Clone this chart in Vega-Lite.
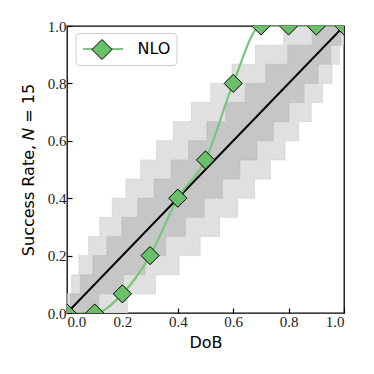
{
  "$schema": "https://vega.github.io/schema/vega-lite/v6.json",
  "width": 277,
  "height": 287,
  "autosize": {"type": "none"},
  "padding": {"left": 67, "top": 26, "right": 30, "bottom": 61},
  "background": "white",
  "config": {
    "view": {"stroke": "black", "strokeWidth": 1.3},
    "axis": {
      "domain": false,
      "grid": false,
      "ticks": true,
      "tickColor": "black",
      "tickSize": -5,
      "tickWidth": 1.2,
      "labelFont": "Liberation Serif",
      "labelFontSize": 15,
      "labelColor": "#222",
      "titleFont": "DejaVu Sans",
      "titleFontSize": 16,
      "titleFontWeight": "normal",
      "titleColor": "black"
    }
  },
  "datasets": {
    "light": [
      {"x": 0, "y": 0, "y2": 0},
      {"x": 0.0017, "y": 0, "y2": 0.0667},
      {"x": 0.0166, "y": 0, "y2": 0.1333},
      {"x": 0.0433, "y": 0, "y2": 0.2},
      {"x": 0.0779, "y": 0, "y2": 0.2667},
      {"x": 0.1182, "y": 0, "y2": 0.3333},
      {"x": 0.1634, "y": 0, "y2": 0.4},
      {"x": 0.2127, "y": 0, "y2": 0.4667},
      {"x": 0.218, "y": 0.0667, "y2": 0.4667},
      {"x": 0.2659, "y": 0.0667, "y2": 0.5333},
      {"x": 0.3195, "y": 0.1333, "y2": 0.5333},
      {"x": 0.3229, "y": 0.1333, "y2": 0.6},
      {"x": 0.3838, "y": 0.1333, "y2": 0.6667},
      {"x": 0.4046, "y": 0.2, "y2": 0.6667},
      {"x": 0.449, "y": 0.2, "y2": 0.7333},
      {"x": 0.4809, "y": 0.2667, "y2": 0.7333},
      {"x": 0.5191, "y": 0.2667, "y2": 0.8},
      {"x": 0.551, "y": 0.3333, "y2": 0.8},
      {"x": 0.5954, "y": 0.3333, "y2": 0.8667},
      {"x": 0.6162, "y": 0.4, "y2": 0.8667},
      {"x": 0.6771, "y": 0.4667, "y2": 0.8667},
      {"x": 0.6805, "y": 0.4667, "y2": 0.9333},
      {"x": 0.7341, "y": 0.5333, "y2": 0.9333},
      {"x": 0.782, "y": 0.5333, "y2": 1},
      {"x": 0.7873, "y": 0.6, "y2": 1},
      {"x": 0.8366, "y": 0.6667, "y2": 1},
      {"x": 0.8818, "y": 0.7333, "y2": 1},
      {"x": 0.9221, "y": 0.8, "y2": 1},
      {"x": 0.9567, "y": 0.8667, "y2": 1},
      {"x": 0.9834, "y": 0.9333, "y2": 1},
      {"x": 0.9983, "y": 1, "y2": 1},
      {"x": 1, "y": 1, "y2": 1}
    ],
    "dark": [
      {"x": 0, "y": 0, "y2": 0},
      {"x": 0.0116, "y": 0, "y2": 0.0667},
      {"x": 0.048, "y": 0, "y2": 0.1333},
      {"x": 0.0935, "y": 0, "y2": 0.2},
      {"x": 0.115, "y": 0.0667, "y2": 0.2},
      {"x": 0.1441, "y": 0.0667, "y2": 0.2667},
      {"x": 0.1984, "y": 0.0667, "y2": 0.3333},
      {"x": 0.2031, "y": 0.1333, "y2": 0.3333},
      {"x": 0.2551, "y": 0.1333, "y2": 0.4},
      {"x": 0.2822, "y": 0.2, "y2": 0.4},
      {"x": 0.3143, "y": 0.2, "y2": 0.4667},
      {"x": 0.3563, "y": 0.2667, "y2": 0.4667},
      {"x": 0.3758, "y": 0.2667, "y2": 0.5333},
      {"x": 0.427, "y": 0.3333, "y2": 0.5333},
      {"x": 0.4392, "y": 0.3333, "y2": 0.6},
      {"x": 0.495, "y": 0.4, "y2": 0.6},
      {"x": 0.505, "y": 0.4, "y2": 0.6667},
      {"x": 0.5608, "y": 0.4667, "y2": 0.6667},
      {"x": 0.573, "y": 0.4667, "y2": 0.7333},
      {"x": 0.6242, "y": 0.5333, "y2": 0.7333},
      {"x": 0.6437, "y": 0.5333, "y2": 0.8},
      {"x": 0.6857, "y": 0.6, "y2": 0.8},
      {"x": 0.7178, "y": 0.6, "y2": 0.8667},
      {"x": 0.7449, "y": 0.6667, "y2": 0.8667},
      {"x": 0.7969, "y": 0.6667, "y2": 0.9333},
      {"x": 0.8016, "y": 0.7333, "y2": 0.9333},
      {"x": 0.8559, "y": 0.8, "y2": 0.9333},
      {"x": 0.885, "y": 0.8, "y2": 1},
      {"x": 0.9065, "y": 0.8667, "y2": 1},
      {"x": 0.952, "y": 0.9333, "y2": 1},
      {"x": 0.9884, "y": 1, "y2": 1},
      {"x": 1, "y": 1, "y2": 1}
    ],
    "diag": [
      {"x": 0, "y": 0},
      {"x": 1, "y": 1}
    ],
    "nlo": [
      {"x": 0.0, "y": 0.0, "s1": "NLO", "s2": "NLO"},
      {"x": 0.1, "y": 0.0, "s1": "NLO", "s2": "NLO"},
      {"x": 0.2, "y": 0.0667, "s1": "NLO", "s2": "NLO"},
      {"x": 0.3, "y": 0.2, "s1": "NLO", "s2": "NLO"},
      {"x": 0.4, "y": 0.4, "s1": "NLO", "s2": "NLO"},
      {"x": 0.5, "y": 0.5333, "s1": "NLO", "s2": "NLO"},
      {"x": 0.6, "y": 0.8, "s1": "NLO", "s2": "NLO"},
      {"x": 0.7, "y": 1.0, "s1": "NLO", "s2": "NLO"},
      {"x": 0.8, "y": 1.0, "s1": "NLO", "s2": "NLO"},
      {"x": 0.9, "y": 1.0, "s1": "NLO", "s2": "NLO"},
      {"x": 1.0, "y": 1.0, "s1": "NLO", "s2": "NLO"}
    ]
  },
  "layer": [
    {
      "data": {"name": "light"},
      "mark": {"type": "area", "interpolate": "step-after", "fill": "#e0e0e0", "stroke": "#c8c8c8", "strokeWidth": 0.8, "strokeDash": [1.5, 1], "clip": true},
      "encoding": {
        "x": {"field": "x", "type": "quantitative", "scale": {"domain": [0, 1], "nice": false, "zero": false},
          "axis": {"title": "DoB", "values": [0, 0.2, 0.4, 0.6, 0.8, 1.0], "format": ".1f", "labelPadding": 6, "titlePadding": 5}},
        "y": {"field": "y", "type": "quantitative", "scale": {"domain": [0, 1], "nice": false, "zero": false},
          "axis": {"title": "Success Rate, 𝑁 = 15", "values": [0, 0.2, 0.4, 0.6, 0.8, 1.0], "format": ".1f", "labelPadding": 6, "titlePadding": 11}},
        "y2": {"field": "y2"}
      }
    },
    {
      "data": {"name": "dark"},
      "mark": {"type": "area", "interpolate": "step-after", "fill": "#c6c6c6", "stroke": "#b4b4b4", "strokeWidth": 0.8, "strokeDash": [1.5, 1], "clip": true},
      "encoding": {
        "x": {"field": "x", "type": "quantitative"},
        "y": {"field": "y", "type": "quantitative"},
        "y2": {"field": "y2"}
      }
    },
    {
      "data": {"name": "diag"},
      "mark": {"type": "line", "color": "black", "strokeWidth": 2, "clip": true},
      "encoding": {
        "x": {"field": "x", "type": "quantitative"},
        "y": {"field": "y", "type": "quantitative"}
      }
    },
    {
      "data": {"name": "nlo"},
      "mark": {"type": "line", "interpolate": "monotone", "strokeWidth": 2.2, "clip": true},
      "encoding": {
        "x": {"field": "x", "type": "quantitative"},
        "y": {"field": "y", "type": "quantitative"},
        "stroke": {"field": "s1", "type": "nominal", "scale": {"range": ["#79c679"]},
          "legend": {"orient": "none", "legendX": 8.5, "legendY": 7, "title": null, "symbolType": "stroke", "symbolSize": 1600, "symbolStrokeWidth": 2.2, "clipHeight": 20, "padding": 6, "strokeColor": "#cccccc", "cornerRadius": 4, "fillColor": "white", "labelFont": "DejaVu Sans", "labelFontSize": 16, "labelOffset": 13, "labelColor": "black", "zindex": 1}}
      }
    },
    {
      "data": {"name": "nlo"},
      "mark": {"type": "point", "shape": "diamond", "filled": true, "size": 330, "stroke": "black", "strokeWidth": 1, "opacity": 1, "clip": true},
      "encoding": {
        "x": {"field": "x", "type": "quantitative"},
        "y": {"field": "y", "type": "quantitative"},
        "fill": {"field": "s2", "type": "nominal", "scale": {"range": ["#6abf69"]},
          "legend": {"orient": "none", "legendX": 18.5, "legendY": 7, "title": null, "symbolType": "diamond", "symbolSize": 400, "symbolStrokeColor": "black", "symbolStrokeWidth": 1, "symbolOpacity": 1, "padding": 6, "labelOpacity": 0, "zindex": 2}}
      }
    }
  ]
}
